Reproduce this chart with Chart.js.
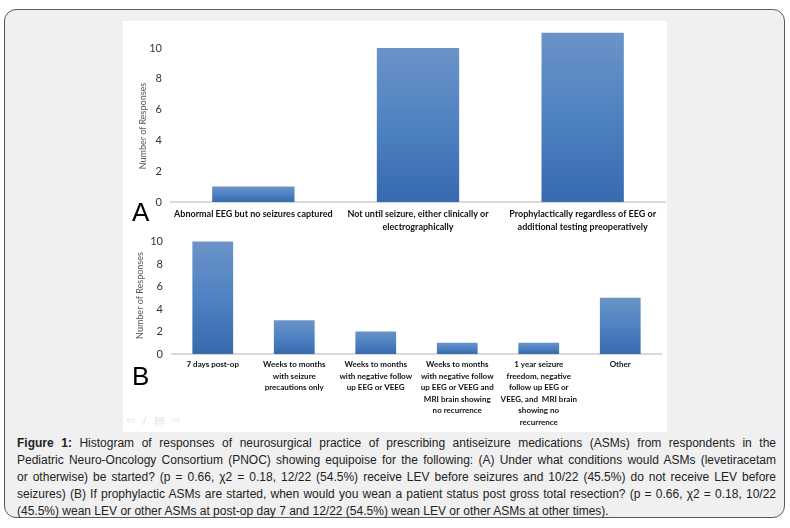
<!DOCTYPE html>
<html>
<head>
<meta charset="utf-8">
<script src="https://cdn.jsdelivr.net/npm/chart.js@4.4.1/dist/chart.umd.min.js"></script>
<style>
  body { margin: 0; width: 790px; height: 528px; background: #fff; position: relative; overflow: hidden;
         font-family: "Liberation Sans", Arial, sans-serif; }
  .frame { position: absolute; left: 4px; top: 9px; width: 781px; height: 509px; box-sizing: border-box;
           border: 1.5px solid #5a5a5a; border-radius: 12px; background: #f0f0f0; }
  .panel { position: absolute; left: 123px; top: 21px; width: 544px; height: 411px; background: #fff; }
  canvas { position: absolute; }
  #chartA { left: 123px; top: 21px; }
  #chartB { left: 123px; top: 235px; }
  .letter { position: absolute; font-family: "Liberation Sans", Arial, sans-serif; font-size: 26px; color: #000; line-height: 1; }
  .ytitle { position: absolute; font-family: Lato, sans-serif; font-size: 9px; color: #555; white-space: nowrap;
            transform: translate(-50%, -50%) rotate(-90deg); }
  .tools { position: absolute; left: 126px; top: 414px; font-family: "DejaVu Sans", sans-serif; font-size: 11px;
           color: #e4e4e4; word-spacing: 4px; }
  .cap { position: absolute; left: 17px; top: 435px; width: 759px; font-size: 12px; line-height: 17px; color: #222; }
  .cap div { text-align: justify; text-align-last: justify; white-space: nowrap; }
  .cap div.last { text-align-last: left; }
</style>
</head>
<body>
<div class="frame"></div>
<div class="panel"></div>
<canvas id="chartA" width="544" height="214"></canvas>
<canvas id="chartB" width="544" height="197"></canvas>
<div class="ytitle" style="left:142px; top:126px;">Number of Responses</div>
<div class="letter" style="left:132px; top:199px;">A</div>
<div class="letter" style="left:132px; top:363px;">B</div>
<div class="tools">⇦ ∕ ▤ ⇨</div>
<div class="cap">
  <div><b>Figure 1:</b> Histogram of responses of neurosurgical practice of prescribing antiseizure medications (ASMs) from respondents in the</div>
  <div>Pediatric Neuro-Oncology Consortium (PNOC) showing equipoise for the following: (A) Under what conditions would ASMs (levetiracetam</div>
  <div>or otherwise) be started? (p = 0.66, χ2 = 0.18, 12/22 (54.5%) receive LEV before seizures and 10/22 (45.5%) do not receive LEV before</div>
  <div>seizures) (B) If prophylactic ASMs are started, when would you wean a patient status post gross total resection? (p = 0.66, χ2 = 0.18, 10/22</div>
  <div class="last">(45.5%) wean LEV or other ASMs at post-op day 7 and 12/22 (54.5%) wean LEV or other ASMs at other times).</div>
</div>

<script>
// panel A: when are ASMs started
const labelsA = [
  ['Abnormal EEG but no seizures captured'],
  ['Not until seizure, either clinically or', 'electrographically'],
  ['Prophylactically regardless of EEG or', 'additional testing preoperatively']
];
const valuesA = [1, 10, 11];
const yTicksA = [0, 2, 4, 6, 8, 10];

// panel B: when are ASMs weaned
const labelsB = [
  ['7 days post-op'],
  ['Weeks to months', 'with seizure', 'precautions only'],
  ['Weeks to months', 'with negative follow', 'up EEG or VEEG'],
  ['Weeks to months', 'with negative follow', 'up EEG or VEEG and', 'MRI brain showing', 'no recurrence'],
  ['1 year seizure', 'freedom, negative', 'follow up EEG or', 'VEEG, and  MRI brain', 'showing no', 'recurrence'],
  ['Other']
];
const valuesB = [10, 3, 2, 1, 1, 5];
const yTicksB = [0, 2, 4, 6, 8, 10];

// excel-ish vertical gradient per bar
function barFill(ctx) {
  const chart = ctx.chart;
  const y = chart.scales.y;
  if (!y || ctx.raw == null) return '#4f82c2';
  const top = y.getPixelForValue(ctx.raw);
  const bottom = y.getPixelForValue(0);
  if (!isFinite(top) || !isFinite(bottom) || top === bottom) return '#4f82c2';
  const g = chart.ctx.createLinearGradient(0, top, 0, bottom);
  g.addColorStop(0, '#6b93c8');
  g.addColorStop(0.5, '#4f82c2');
  g.addColorStop(1, '#3769ae');
  return g;
}

function makeChart(id, labels, values, ticks, opts) {
  return new Chart(document.getElementById(id), {
    type: 'bar',
    data: {
      labels: labels,
      datasets: [{
        data: values,
        backgroundColor: barFill,
        borderWidth: 0,
        barPercentage: 0.5,
        categoryPercentage: 1
      }]
    },
    options: {
      responsive: false,
      animation: false,
      devicePixelRatio: 1,
      layout: { padding: opts.padding },
      plugins: { legend: { display: false }, tooltip: { enabled: false } },
      scales: {
        x: {
          grid: { display: false, drawTicks: false },
          border: { color: '#d9d9d9', width: 2 },
          ticks: {
            autoSkip: false,
            maxRotation: 0,
            minRotation: 0,
            padding: opts.xPad,
            color: '#111',
            font: { family: 'Lato', weight: 'bold', size: opts.xFont, lineHeight: opts.xLine }
          },
          afterFit: s => { s.height = opts.xHeight; s.paddingLeft = 0; s.paddingRight = 0; }
        },
        y: {
          min: 0,
          max: opts.yMax,
          grid: { display: false, drawTicks: false },
          border: { display: false },
          afterBuildTicks: s => { s.ticks = ticks.map(v => ({ value: v })); },
          afterFit: s => { s.width = 37; s.paddingTop = 0; s.paddingBottom = 0; },
          ticks: {
            padding: 9,
            color: '#333',
            font: { family: 'Lato', size: 11 }
          },
          title: {
            display: opts.title,
            text: 'Number of Responses',
            color: '#555',
            padding: 0,
            font: { family: 'Lato', size: 9 }
          }
        }
      }
    }
  });
}

makeChart('chartA', labelsA, valuesA, yTicksA, {
  padding: { left: 11, right: 2, top: 4, bottom: 0 },
  yMax: 11.5, xHeight: 33, xPad: 6, xFont: 9, xLine: '13px', title: false
});

makeChart('chartB', labelsB, valuesB, yTicksB, {
  padding: { left: 12, right: 6, top: 2, bottom: 0 },
  yMax: 10.4, xHeight: 78, xPad: 5, xFont: 8, xLine: '11.5px', title: true
});
</script>
</body>
</html>
